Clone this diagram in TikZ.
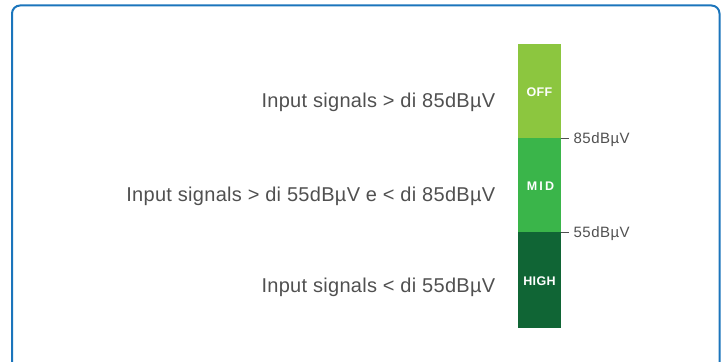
\documentclass[tikz,border=0pt]{standalone}
\usepackage{fontspec}
\setmainfont{Liberation Sans}
\newfontfamily\mainsp[LetterSpace=1.5]{Liberation Sans}
\newfontfamily\labsp[LetterSpace=3]{Liberation Sans}
\newfontfamily\barsp[LetterSpace=3]{Liberation Sans}
\newfontfamily\midsp[LetterSpace=18]{Liberation Sans}
\definecolor{frameblue}{HTML}{1B75BC}
\definecolor{txtgrey}{HTML}{505050}
\definecolor{offgreen}{HTML}{8CC63F}
\definecolor{midgreen}{HTML}{3AB54A}
\definecolor{highgreen}{HTML}{106535}
\tikzset{
  maintext/.style={anchor=base east, inner sep=0pt, text=txtgrey, font=\mainsp\fontsize{20}{22}\selectfont},
  levellab/.style={anchor=base west, inner sep=0pt, text=txtgrey, font=\labsp\fontsize{15}{17}\selectfont},
  seg/.style={inner sep=0pt, line width=0.6pt, minimum width=42pt, minimum height=93.5pt, anchor=north west},
  barlab/.style={anchor=base, inner sep=0pt, text=white, font=\barsp\bfseries\fontsize{12.5}{14}\selectfont},
  tick/.style={draw=txtgrey, line width=1pt}
}
\begin{document}
\begin{tikzpicture}[x=1pt,y=1pt]
\useasboundingbox (0,0) rectangle (727,361);
\draw[frameblue, line width=2pt, rounded corners=8pt] (12,-10) -- (12,355.5) -- (719.5,355.5) -- (719.5,-10);
% bar
\node[seg, fill=offgreen, draw=offgreen] (off) at (518.3,316.7) {};
\node[seg, fill=midgreen, draw=midgreen] (mid) at (off.south west) {};
\node[seg, fill=highgreen, draw=highgreen, minimum height=94pt] (high) at (mid.south west) {};
\node[barlab] (offl) at (539.5,264.3) {OFF};
\node[barlab, font=\midsp\bfseries\fontsize{12.5}{14}\selectfont] (midl) at (540.5,170.3) {MID};
\node[barlab] (highl) at (539.5,75.7) {HIGH};
% ticks
\coordinate (t85) at ([xshift=8.5pt]off.south east);
\coordinate (t55) at ([xshift=8.5pt]mid.south east);
\draw[tick] (off.south east) -- (t85);
\draw[tick] (mid.south east) -- (t55);
\node[levellab] (l85) at (573.5,217.7) {85dBµV};
\node[levellab] (l55) at (573.5,123.7) {55dBµV};
% main texts
\node[maintext] (t1) at (495.5,253) {Input signals > di 85dBµV};
\node[maintext] (t2) at (495.5,159.3) {Input signals > di 55dBµV e < di 85dBµV};
\node[maintext] (t3) at (495.5,68) {Input signals < di 55dBµV};
\end{tikzpicture}
\end{document}
